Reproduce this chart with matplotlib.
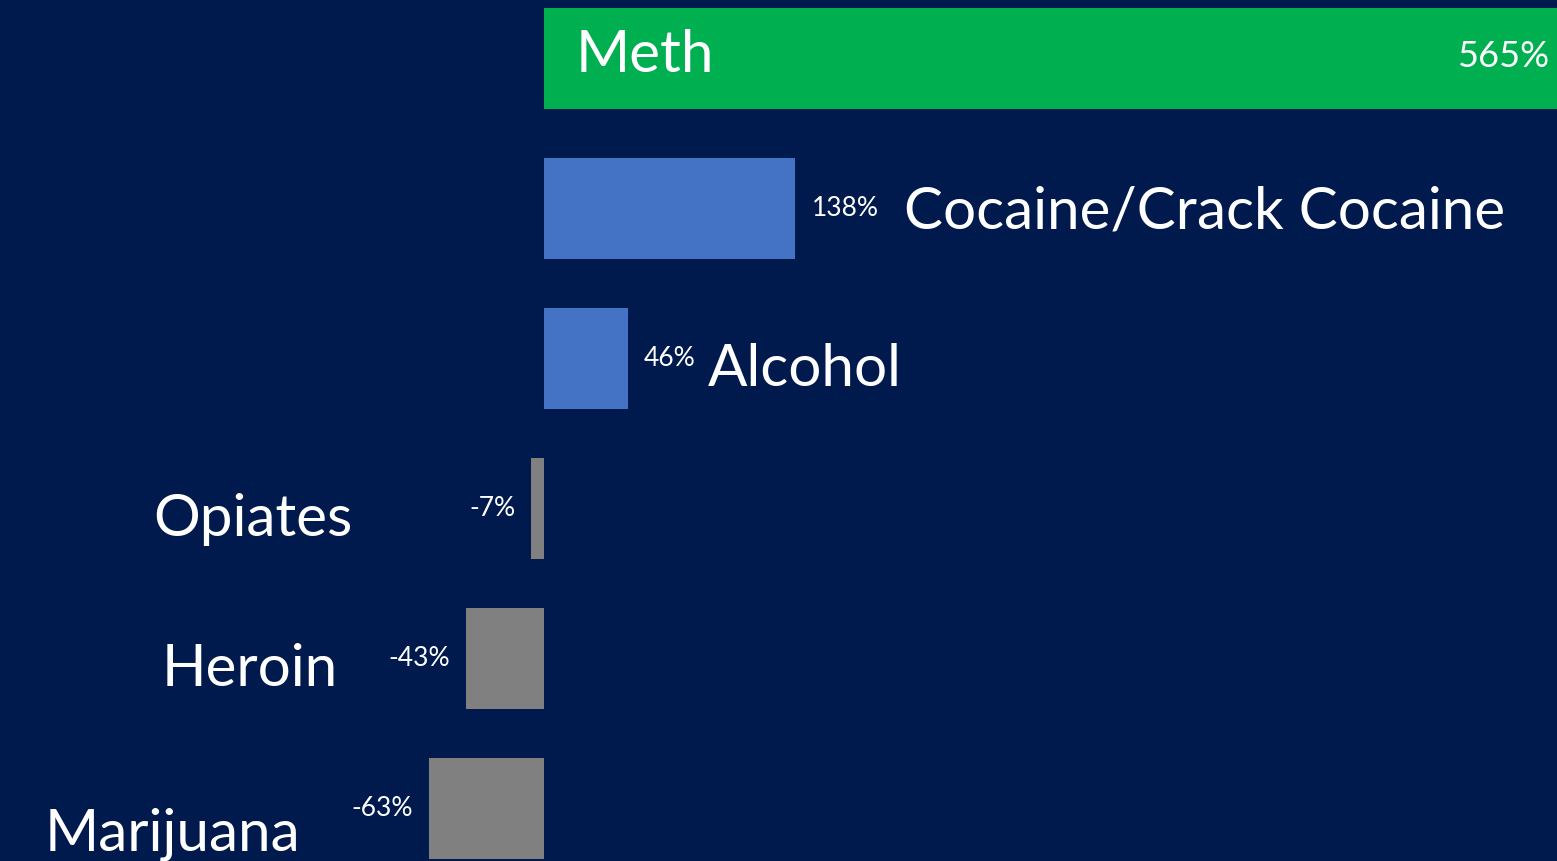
import matplotlib
matplotlib.use("Agg")
import matplotlib.pyplot as plt

# Dati: variazione percentuale per sostanza
categories = ["Meth", "Cocaine/Crack Cocaine", "Alcohol", "Opiates", "Heroin", "Marijuana"]
changes = [565, 138, 46, -7, -43, -63]
value_labels = ["565%", "138%", "46%", "-7%", "-43%", "-63%"]

# Colori e layout
BG = "#001A4E"
GREEN = "#00B050"
BLUE = "#4472C4"
GRAY = "#808080"
bar_colors = [GREEN, BLUE, BLUE, GRAY, GRAY, GRAY]

# posizione dei nomi (pixel rispetto alla fine della barra) e baseline
name_dx = [32, 109, 80, -179, -128, -129]
name_dy = [-14, -20, -27, -28, -27, -42]
name_from_zero = [True, False, False, False, False, False]

plt.rcParams['font.family'] = ['Lato', 'DejaVu Sans']

fig = plt.figure(figsize=(15.57, 8.61), dpi=100, facecolor=BG)
ax = fig.add_axes([0, 0, 1, 1])
ax.set_facecolor(BG)

ypos = list(range(len(categories)))
ax.barh(ypos, changes, height=0.667, color=bar_colors, edgecolor='none')

# la barra Meth esce dal bordo destro (tagliata)
ax.set_xlim(-298.6, 556.0)
ax.set_ylim(5.35, -0.39)
ax.axis('off')

for i, (val, lab, name) in enumerate(zip(changes, value_labels, categories)):
    # etichetta valore
    if i == 0:
        ax.annotate(lab, xy=(556.0, i), xytext=(-8, 2), textcoords='offset pixels',
                    ha='right', va='center', fontsize=26, color='white')
    elif val >= 0:
        ax.annotate(lab, xy=(val, i), xytext=(16, 0), textcoords='offset pixels',
                    ha='left', va='center', fontsize=19, color='white')
    else:
        ax.annotate(lab, xy=(val, i), xytext=(-16, 0), textcoords='offset pixels',
                    ha='right', va='center', fontsize=19, color='white')

    # nome della categoria
    x0 = 0 if name_from_zero[i] else val
    ha = 'left' if name_dx[i] > 0 else 'right'
    ax.annotate(name, xy=(x0, i), xytext=(name_dx[i], name_dy[i]),
                textcoords='offset pixels', ha=ha, va='baseline',
                fontsize=42, color='white')

plt.savefig("out.png", dpi=100, facecolor=BG)
plt.close()
